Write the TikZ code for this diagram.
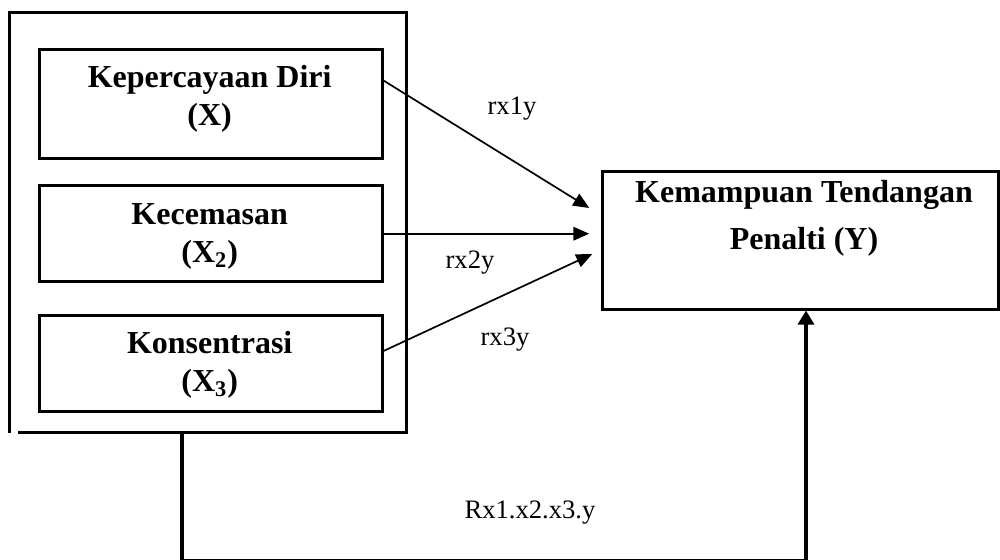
\documentclass[tikz,border=0pt]{standalone}
\usepackage{fontspec}
\setmainfont{Liberation Serif}
\usetikzlibrary{arrows.meta,calc}
\begin{document}
\begin{tikzpicture}[x=0.5pt,y=-0.5pt,
  boxframe/.style={draw,line width=1.5pt,inner sep=0pt,minimum width=171.5pt},
  boxtext/.style={font=\fontsize{16}{19}\selectfont\bfseries,align=center,inner sep=0pt},
  lab/.style={font=\fontsize{13.3}{16}\selectfont,inner sep=0pt},
  thinarrow/.style={line width=0.85pt,-{Triangle[length=8pt,width=6.8pt]}},
  thickarrow/.style={line width=1.6pt,-{Triangle[length=7pt,width=8pt]}}]
\useasboundingbox (0,0) rectangle (1000,559);

% outer frame
\node[inner sep=0pt,minimum width=198.25pt,minimum height=209.5pt] (outer) at (207.75,222.5) {};
\draw[line width=1.6pt] ($(outer.south west)+(9,0)$) -- (outer.south east) -- (outer.north east) -- (outer.north west) -- ($(outer.south west)+(0,1)$);

% inner boxes
\node[boxframe,minimum height=54.75pt] (b1) at (210.5,103.75) {};
\node[boxframe,minimum height=48pt] (b2) at (210.5,233.7) {};
\node[boxframe,minimum height=48pt] (b3) at (210.5,363) {};
\node[boxtext] (t1) at (209.7,99) {Kepercayaan Diri\\(X)};
\node[boxtext] (t2) at (209.7,236) {Kecemasan\\(X\textsubscript{2})};
\node[boxtext] (t3) at (209.7,365) {Konsentrasi\\(X\textsubscript{3})};

% dependent box
\node[draw,line width=1.5pt,inner sep=0pt,minimum width=197.75pt,minimum height=69pt] (Y) at (800.5,240) {};
\node[boxtext,font=\fontsize{16}{23.5}\selectfont\bfseries] (ty) at (804,218.5) {Kemampuan Tendangan\\Penalti (Y)};

% arrows
\coordinate (s1) at ($(b1.north east)+(0,33)$);
\coordinate (e1) at ($(Y.west)+(-12,-32)$);
\coordinate (e2) at ($(Y.west)+(-12,-7)$);
\coordinate (e3) at ($(Y.west)+(-9,14)$);
\coordinate (s3) at ($(b3.east)+(0,-12)$);
\draw[thinarrow] (s1) -- (e1);
\draw[thinarrow] (b2.east) -- (e2 |- b2.east);
\draw[thinarrow] (s3) -- (e3);

\node[lab] (l1) at (512,109) {rx1y};
\node[lab] (l2) at (470,263) {rx2y};
\node[lab] (l3) at (505,340) {rx3y};

% bottom connector (its bottom run lies mostly outside the picture)
\coordinate (c1) at (182,561);
\coordinate (c2) at (806,561);
\draw[thickarrow] (c1 |- outer.south) -- (c1) -- (c2) -- (c2 |- Y.south);
\node[lab] (l4) at (530,513) {Rx1.x2.x3.y};
\end{tikzpicture}
\end{document}
